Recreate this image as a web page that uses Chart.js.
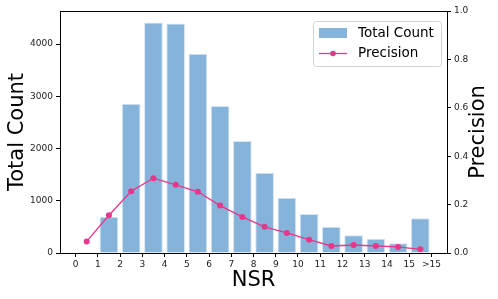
<!DOCTYPE html>
<html>
<head>
<meta charset="utf-8">
<script src="https://cdn.jsdelivr.net/npm/chart.js@4"></script>
<style>
  html, body { margin: 0; padding: 0; background: #fff; }
  #wrap { width: 498px; height: 299px; }
</style>
</head>
<body>
<div id="wrap"><canvas id="chart" width="498" height="299"></canvas></div>
<script>
// bins between the NSR tick marks
const binCenters = [0.5, 1.5, 2.5, 3.5, 4.5, 5.5, 6.5, 7.5, 8.5, 9.5, 10.5, 11.5, 12.5, 13.5, 14.5, 15.5];
const totalCount = [15, 695, 2857, 4413, 4394, 3814, 2813, 2143, 1537, 1058, 746, 504, 338, 274, 185, 664];
const precision = [0.048, 0.156, 0.255, 0.309, 0.282, 0.253, 0.196, 0.149, 0.108, 0.083, 0.055, 0.029, 0.033, 0.029, 0.025, 0.015];
const xTickLabels = ["0", "1", "2", "3", "4", "5", "6", "7", "8", "9", "10", "11", "12", "13", "14", "15", ">15"];
const countTicks = [0, 1000, 2000, 3000, 4000];
const precisionTicks = [0, 0.2, 0.4, 0.6, 0.8, 1.0];

const font = "'DejaVu Sans', sans-serif";
const barColor = "#86b3d9";
const lineColor = "#e6378a";

// matplotlib style frame on top, right axis title and the legend box
const framePlugin = {
  id: "frame",
  afterDraw(chart) {
    const { ctx, chartArea } = chart;
    ctx.save();
    ctx.strokeStyle = "#000";
    ctx.lineWidth = 1;
    ctx.beginPath();
    ctx.moveTo(chartArea.left, chartArea.top + 0.5);
    ctx.lineTo(chartArea.right, chartArea.top + 0.5);
    ctx.stroke();

    // right title reads bottom to top like matplotlib
    ctx.save();
    ctx.translate(479, (chartArea.top + chartArea.bottom) / 2);
    ctx.rotate(-Math.PI / 2);
    ctx.font = "21px " + font;
    ctx.fillStyle = "#000";
    ctx.textAlign = "center";
    ctx.textBaseline = "middle";
    ctx.fillText("Precision", 0, 0);
    ctx.restore();

    // legend box
    const x = 313.5, y = 21.5, w = 128, h = 45;
    ctx.fillStyle = "rgba(255,255,255,0.8)";
    ctx.strokeStyle = "#d4d4d4";
    ctx.beginPath();
    ctx.roundRect(x, y, w, h, 3);
    ctx.fill();
    ctx.stroke();

    const ds = chart.data.datasets;
    ctx.font = "13.5px " + font;
    ctx.textBaseline = "middle";
    // bar entry
    ctx.fillStyle = ds[1].backgroundColor;
    ctx.fillRect(319, 28, 28, 10);
    ctx.fillStyle = "#000";
    ctx.fillText(ds[1].label, 358, 33.5);
    // line entry
    ctx.strokeStyle = ds[0].borderColor;
    ctx.lineWidth = 1.3;
    ctx.beginPath();
    ctx.moveTo(319, 53.5);
    ctx.lineTo(347, 53.5);
    ctx.stroke();
    ctx.fillStyle = ds[0].borderColor;
    ctx.beginPath();
    ctx.arc(333, 53.5, 2.8, 0, Math.PI * 2);
    ctx.fill();
    ctx.fillStyle = "#000";
    ctx.fillText(ds[0].label, 358, 53.5);
    ctx.restore();
  }
};

new Chart(document.getElementById("chart"), {
  data: {
    datasets: [
      {
        type: "line",
        label: "Precision",
        data: binCenters.map((x, i) => ({ x: x, y: precision[i] })),
        yAxisID: "y1",
        borderColor: lineColor,
        backgroundColor: lineColor,
        borderWidth: 1.3,
        pointRadius: 3,
        pointBorderWidth: 0,
        tension: 0,
        order: 0
      },
      {
        type: "bar",
        label: "Total Count",
        data: binCenters.map((x, i) => ({ x: x, y: totalCount[i] })),
        yAxisID: "y",
        backgroundColor: barColor,
        borderColor: "#d5e5f2",
        borderWidth: 1,
        barPercentage: 0.84,
        categoryPercentage: 1,
        order: 1
      }
    ]
  },
  options: {
    responsive: false,
    animation: false,
    layout: { padding: { top: 11, left: 0, right: 0, bottom: 0 } },
    plugins: { legend: { display: false }, tooltip: { enabled: false } },
    scales: {
      x: {
        type: "linear",
        offset: false,
        min: -0.7,
        max: 16.7,
        afterBuildTicks: (axis) => {
          axis.ticks = xTickLabels.map((_, i) => ({ value: i }));
        },
        afterFit: (scale) => { scale.height = 46; },
        grid: { display: true, offset: false, drawOnChartArea: false, color: "#000", tickLength: 4 },
        border: { display: true, color: "#000", width: 1 },
        ticks: {
          autoSkip: false,
          maxRotation: 0,
          padding: 2,
          color: "#222",
          font: { family: font, size: 9 },
          callback: (v) => xTickLabels[v]
        },
        title: {
          display: true,
          text: "NSR",
          color: "#000",
          font: { family: font, size: 21 },
          padding: { top: 0, bottom: 6 }
        }
      },
      y: {
        position: "left",
        min: 0,
        max: 4634,
        afterBuildTicks: (axis) => {
          axis.ticks = countTicks.map((v) => ({ value: v }));
        },
        afterFit: (scale) => { scale.width = 60; },
        grid: { display: true, drawOnChartArea: false, color: "#000", tickLength: 4 },
        border: { display: true, color: "#000", width: 1 },
        ticks: {
          color: "#222",
          padding: 3,
          font: { family: font, size: 9 },
          callback: (v) => String(v)
        },
        title: {
          display: true,
          text: "Total Count",
          color: "#000",
          font: { family: font, size: 21 },
          padding: { top: 5, bottom: 0 }
        }
      },
      y1: {
        position: "right",
        min: 0,
        max: 1,
        afterBuildTicks: (axis) => {
          axis.ticks = precisionTicks.map((v) => ({ value: v }));
        },
        afterFit: (scale) => { scale.width = 51; },
        grid: { display: true, drawOnChartArea: false, color: "#000", tickLength: 4 },
        border: { display: true, color: "#000", width: 1 },
        ticks: {
          color: "#222",
          padding: 3,
          font: { family: font, size: 9 },
          callback: (v) => v.toFixed(1)
        }
      }
    }
  },
  plugins: [framePlugin]
});
</script>
</body>
</html>
